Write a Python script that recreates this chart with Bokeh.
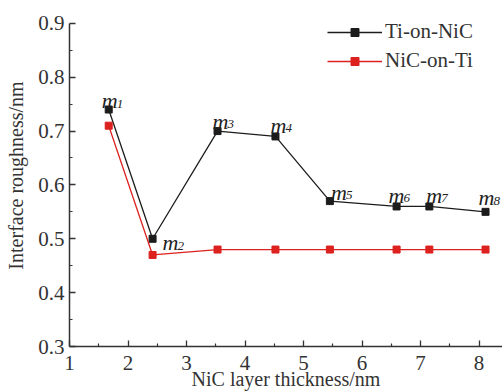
from bokeh.plotting import figure
from bokeh.models import Range1d, FixedTicker, Legend, LegendItem, ColumnDataSource
from bokeh.core.properties import value
from bokeh.embed import file_html
from bokeh.resources import INLINE

# ---- data ----
thickness = [1.67, 2.42, 3.53, 4.52, 5.45, 6.59, 7.15, 8.11]
ti_on_nic = [0.74, 0.50, 0.70, 0.69, 0.57, 0.56, 0.56, 0.55]
nic_on_ti = [0.71, 0.47, 0.48, 0.48, 0.48, 0.48, 0.48, 0.48]
point_names = ["m", "m", "m", "m", "m", "m", "m", "m"]
point_subs = ["1", "2", "3", "4", "5", "6", "7", "8"]
x_ticks = [1, 2, 3, 4, 5, 6, 7, 8]
x_tick_labels = ["1", "2", "3", "4", "5", "6", "7", "8"]
y_ticks = [0.3, 0.4, 0.5, 0.6, 0.7, 0.8, 0.9]
y_tick_labels = ["0.3", "0.4", "0.5", "0.6", "0.7", "0.8", "0.9"]
series_names = ["Ti-on-NiC", "NiC-on-Ti"]

# label placement (screen pixel offsets of each m label from its point)
lab_dx = [-7, 10, -5, -5, 1, -8, -3, -7]
lab_dy = [-9, 4, -10, -11, -9, -11, -11, -14]

FONT = "Liberation Serif"
BLACK = "#1c1c1c"
RED = "#dc211e"

p = figure(width=502, height=392, output_backend="svg", toolbar_location=None,
           x_range=Range1d(1, 8.4), y_range=Range1d(0.3, 0.935),
           min_border_left=69, min_border_right=0, min_border_top=4, min_border_bottom=45)
p.outline_line_color = None
p.background_fill_color = "white"
p.border_fill_color = "white"
p.xgrid.visible = False
p.ygrid.visible = False

p.xaxis.ticker = FixedTicker(ticks=x_ticks, minor_ticks=[1.5 + i for i in range(7)])
p.yaxis.ticker = FixedTicker(ticks=y_ticks, minor_ticks=[0.35 + 0.1 * i for i in range(6)])
p.xaxis.major_label_overrides = {t: l for t, l in zip(x_ticks, x_tick_labels)}
p.yaxis.major_label_overrides = {t: l for t, l in zip(y_ticks, y_tick_labels)}
p.yaxis.bounds = (y_ticks[0], y_ticks[-1])

for ax in (p.xaxis, p.yaxis):
    ax.axis_line_color = "#333333"
    ax.axis_line_width = 1.5
    ax.major_tick_line_color = "#333333"
    ax.minor_tick_line_color = "#333333"
    ax.major_tick_line_width = 1.3
    ax.minor_tick_line_width = 1.2
    ax.major_tick_in = 6
    ax.major_tick_out = 0
    ax.minor_tick_in = 3
    ax.minor_tick_out = 0
    ax.major_label_text_font = FONT
    ax.major_label_text_font_size = "21px"
    ax.major_label_text_color = "#333333"
    ax.axis_label_text_font = FONT
    ax.axis_label_text_font_size = "20px"
    ax.axis_label_text_font_style = "normal"
    ax.axis_label_text_color = "#333333"

p.xaxis.axis_label = "NiC layer thickness/nm"
p.yaxis.axis_label = "Interface roughness/nm"
p.xaxis.major_label_standoff = 9
p.xaxis.axis_label_standoff = -5
p.yaxis.major_label_standoff = 5
p.yaxis.axis_label_standoff = 8

src = ColumnDataSource(dict(x=thickness, a=ti_on_nic, b=nic_on_ti,
                            name=point_names, sub=point_subs, dx=lab_dx, dy=lab_dy,
                            sdx=[d + 15 for d in lab_dx], sdy=[d + 3 for d in lab_dy]))

l1 = p.line("x", "a", source=src, line_color=BLACK, line_width=1.3)
s1 = p.scatter("x", "a", source=src, marker="square", size=7, fill_color=BLACK, line_color=BLACK)
l2 = p.line("x", "b", source=src, line_color=RED, line_width=1.3)
s2 = p.scatter("x", "b", source=src, marker="square", size=7, fill_color=RED, line_color=RED)

p.text("x", "a", text="name", source=src, x_offset="dx", y_offset="dy",
       text_font=value(FONT), text_font_style="italic", text_font_size="22px",
       text_color="#222222", text_align="left", text_baseline="alphabetic")
p.text("x", "a", text="sub", source=src, x_offset="sdx", y_offset="sdy",
       text_font=value(FONT), text_font_style="italic", text_font_size="13px",
       text_color="#222222", text_align="left", text_baseline="alphabetic")

legend = Legend(items=[LegendItem(label=series_names[0], renderers=[l1, s1]),
                       LegendItem(label=series_names[1], renderers=[l2, s2])],
                location=(258, 273), orientation="vertical")
legend.border_line_color = None
legend.background_fill_alpha = 0
legend.padding = 0
legend.margin = 0
legend.spacing = 4
legend.glyph_width = 55
legend.glyph_height = 20
legend.label_height = 20
legend.label_standoff = 3
legend.label_text_font = FONT
legend.label_text_font_size = "21px"
legend.label_text_color = "#333333"
p.add_layout(legend)

open("out.html", "w").write(file_html(p, INLINE))
